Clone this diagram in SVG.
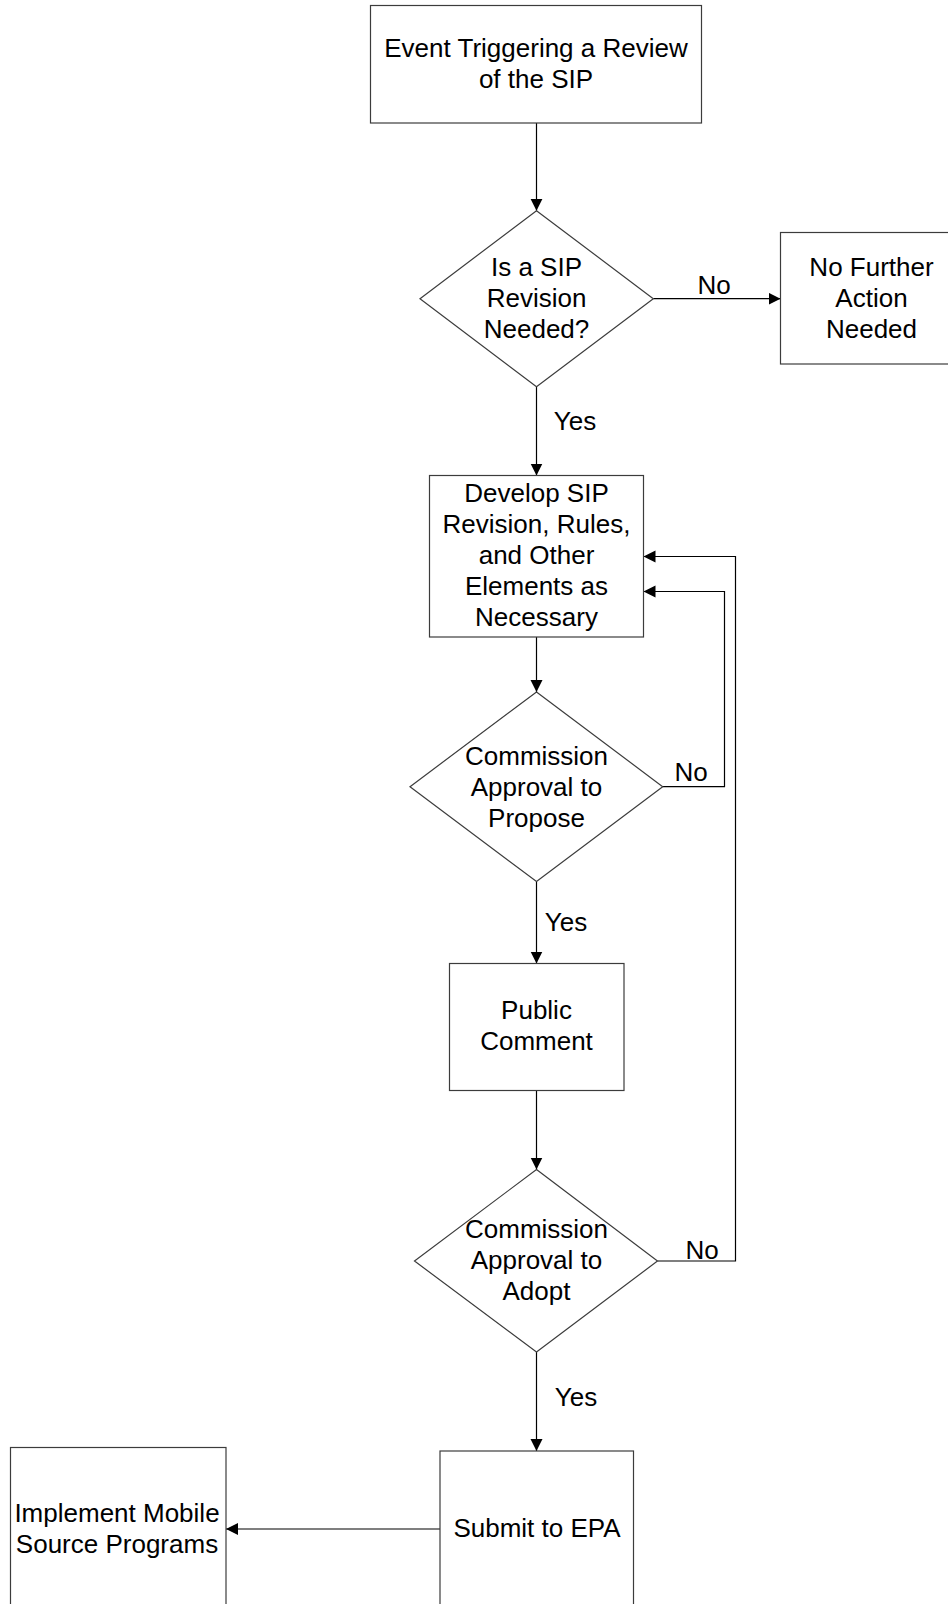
<svg xmlns="http://www.w3.org/2000/svg" width="948" height="1604" viewBox="0 0 948 1604">
  <style>
    .shape { fill: #ffffff; stroke: #3c3c3c; stroke-width: 1.2; }
    .conn { fill: none; stroke: #000000; stroke-width: 1.2; marker-end: url(#arrow); }
    text { font-family: "Liberation Sans", Arial, sans-serif; font-size: 26px; fill: #000000; text-anchor: middle; }
  </style>
  <defs>
    <marker id="arrow" markerUnits="userSpaceOnUse" markerWidth="13" markerHeight="13" refX="12" refY="6" orient="auto">
      <path d="M0,0 L12,6 L0,12 z" fill="#000000"/>
    </marker>
  </defs>
  <rect x="0" y="0" width="948" height="1604" fill="#ffffff"/>

  <!-- connectors -->
  <g id="connectors">
    <line class="conn" x1="536.5" y1="123" x2="536.5" y2="210.7"/>
    <line class="conn" x1="653.3" y1="298.7" x2="780.5" y2="298.7"/>
    <text x="714" y="294">No</text>
    <line class="conn" x1="536.5" y1="386.7" x2="536.5" y2="475.5"/>
    <text x="575" y="429.5">Yes</text>
    <line class="conn" x1="536.5" y1="637" x2="536.5" y2="692"/>
    <polyline class="conn" points="662.7,786.7 724.5,786.7 724.5,591.5 643.5,591.5"/>
    <text x="691" y="781">No</text>
    <line class="conn" x1="536.5" y1="881.6" x2="536.5" y2="963.5"/>
    <text x="566" y="931">Yes</text>
    <line class="conn" x1="536.5" y1="1090.5" x2="536.5" y2="1169.5"/>
    <polyline class="conn" points="657.5,1261 735.5,1261 735.5,556.5 643.5,556.5"/>
    <text x="702" y="1259">No</text>
    <line class="conn" x1="536.5" y1="1352" x2="536.5" y2="1451"/>
    <text x="576" y="1406">Yes</text>
    <line class="conn" x1="440" y1="1529" x2="226" y2="1529"/>
  </g>

  <!-- start event -->
  <g id="event">
    <rect class="shape" x="370.5" y="5.5" width="331" height="117.5"/>
    <text x="536" y="57">Event Triggering a Review<tspan x="536" dy="31">of the SIP</tspan></text>
  </g>

  <!-- decision: revision needed -->
  <g id="revision-needed">
    <polygon class="shape" points="536.5,210.7 653.3,298.7 536.5,386.7 420,298.7"/>
    <text x="536.5" y="276">Is a SIP<tspan x="536.5" dy="31">Revision</tspan><tspan x="536.5" dy="31">Needed?</tspan></text>
  </g>

  <!-- terminal: no action -->
  <g id="no-further-action">
    <rect class="shape" x="780.5" y="232.5" width="182" height="131.5"/>
    <text x="871.5" y="276">No Further<tspan x="871.5" dy="31">Action</tspan><tspan x="871.5" dy="31">Needed</tspan></text>
  </g>

  <!-- develop revision -->
  <g id="develop-revision">
    <rect class="shape" x="429.5" y="475.5" width="214" height="161.5"/>
    <text x="536.5" y="502">Develop SIP<tspan x="536.5" dy="31">Revision, Rules,</tspan><tspan x="536.5" dy="31">and Other</tspan><tspan x="536.5" dy="31">Elements as</tspan><tspan x="536.5" dy="31">Necessary</tspan></text>
  </g>

  <!-- decision: approval to propose -->
  <g id="approval-propose">
    <polygon class="shape" points="536.5,692 662.7,786.7 536.5,881.6 410,786.7"/>
    <text x="536.5" y="765">Commission<tspan x="536.5" dy="31">Approval to</tspan><tspan x="536.5" dy="31">Propose</tspan></text>
  </g>

  <!-- public comment -->
  <g id="public-comment">
    <rect class="shape" x="449.5" y="963.5" width="174.5" height="127"/>
    <text x="536.5" y="1018.5">Public<tspan x="536.5" dy="31.5">Comment</tspan></text>
  </g>

  <!-- decision: approval to adopt -->
  <g id="approval-adopt">
    <polygon class="shape" points="536.5,1169.5 657.5,1261 536.5,1352 414.5,1261"/>
    <text x="536.5" y="1238">Commission<tspan x="536.5" dy="31">Approval to</tspan><tspan x="536.5" dy="31">Adopt</tspan></text>
  </g>

  <!-- submit to EPA -->
  <g id="submit-epa">
    <rect class="shape" x="440" y="1451" width="193.5" height="200"/>
    <text x="537" y="1537">Submit to EPA</text>
  </g>

  <!-- implement mobile source programs -->
  <g id="implement-programs">
    <rect class="shape" x="10.5" y="1447.5" width="215.5" height="200"/>
    <text x="117" y="1522">Implement Mobile<tspan x="117" dy="31">Source Programs</tspan></text>
  </g>
</svg>
